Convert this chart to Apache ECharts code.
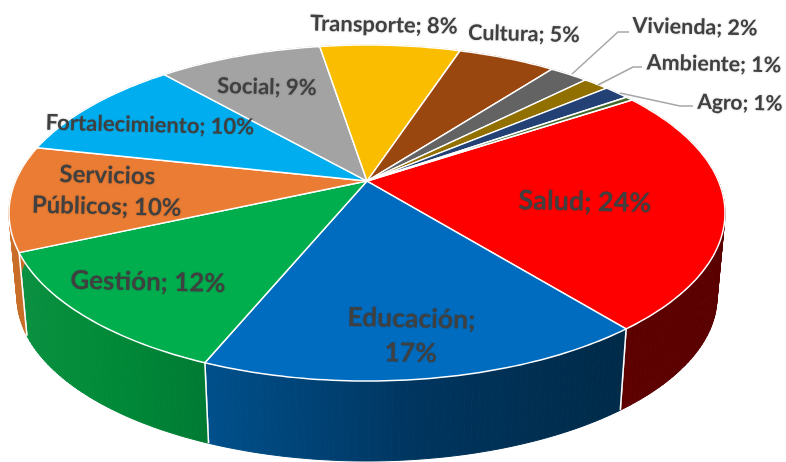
<!DOCTYPE html>
<html>
<head>
<meta charset="utf-8">
<title>Pie 3D</title>
<script src="https://cdn.jsdelivr.net/npm/echarts@6/dist/echarts.min.js"></script>
<style>
  html, body { margin: 0; padding: 0; background: #fff; }
  #chart { width: 786px; height: 462px; }
</style>
</head>
<body>
<div id="chart"></div>
<script>
// The last slice is the thin unlabelled one next to Salud
const categories = ['Salud', 'Educación', 'Gestión', 'Servicios Públicos', 'Fortalecimiento', 'Social', 'Transporte', 'Cultura', 'Vivienda', 'Ambiente', 'Agro', ''];
const values = [23.5, 17.0, 12.1, 10.1, 10.1, 8.9, 7.6, 5.3, 2.1, 1.4, 1.4, 0.4];
const colors = ['#ff0000', '#006cbf', '#00ae4e', '#ea7c33', '#00aeef', '#a3a3a3', '#fbbd00', '#99460f', '#636363', '#927000', '#234175', '#43682b'];

// Wall colours, left to right across each slice
const sideColors = [
  ['#5e0000', '#5a0000'],
  ['#00508c', '#00355f', '#002a48'],
  ['#0a9040', '#008a38', '#007a33'],
  ['#c96f2a', '#c46a20'],
  ['#0090c4', '#0090c4'],
  ['#888888', '#888888'],
  ['#cf9c00', '#cf9c00'],
  ['#7c390c', '#7c390c'],
  ['#505050', '#505050'],
  ['#775b00', '#775b00'],
  ['#1c3460', '#1c3460'],
  ['#365423', '#365423']
];

// [x, y, fontSize, text lines]
const labelLayout = [
  [585, 202, 27, ['Salud; 24%']],
  [411, 336, 26.5, ['Educación;', '17%']],
  [148, 282, 26, ['Gestión; 12%']],
  [107, 191, 24, ['Servicios', 'Públicos; 10%']],
  [150, 125, 22, ['Fortalecimiento; 10%']],
  [267, 87, 22, ['Social; 9%']],
  [384, 25, 22, ['Transporte; 8%']],
  [524, 34, 21.5, ['Cultura; 5%']],
  [695, 27, 21.5, ['Vivienda; 2%']],
  [714, 64, 21.5, ['Ambiente; 1%']],
  [740, 103, 21, ['Agro; 1%']],
  null
];

const leaderLines = [
  [[572, 74], [618, 32], [629, 32]],
  [[598, 85], [633, 67], [642, 67]],
  [[620, 93], [680, 106], [693, 106]]
];

const START_ANGLE = 56.4;
const TOP = { cx: 367, cy: 213, rx: 358, ry: 168 };
const BOTTOM = { cx: 367, cy: 297, rx: 350, ry: 164 };
const TILT = 0.19; // moves the hub up from the middle of the ellipse, as the perspective does

const total = values.reduce((a, b) => a + b, 0);
const angles = [];
values.reduce((acc, v, i) => {
  angles[i] = [acc, acc + v / total * 360];
  return acc + v / total * 360;
}, START_ANGLE);

// clockwise angle from 12 o'clock to a point on the tilted disc
function project(deg, e) {
  const a = deg * Math.PI / 180;
  const u = Math.sin(a);
  const v = -Math.cos(a);
  const d = 1 - TILT * v;
  return [
    e.cx + e.rx * u * Math.sqrt(1 - TILT * TILT) / d,
    e.cy + e.ry * (v - TILT) / d
  ];
}

function arc(a0, a1, e) {
  const n = Math.max(2, Math.ceil(a1 - a0));
  const pts = [];
  for (let i = 0; i <= n; i++) {
    pts.push(project(a0 + (a1 - a0) * i / n, e));
  }
  return pts;
}

// The wall is swept in small quads, a single polygon would miss the corner of the silhouette.
// They share one global gradient so the seams don't show.
function renderSide(params, api) {
  const i = api.value(0);
  const [a0, a1] = angles[i];
  const up = arc(a0, a1, TOP);
  const down = arc(a0, a1, BOTTOM);
  const xs = up.concat(down).map(p => p[0]);
  const stops = sideColors[i].map((color, k, all) => ({ offset: k / (all.length - 1), color: color }));
  const paint = new echarts.graphic.LinearGradient(Math.min(...xs), 0, Math.max(...xs), 0, stops, true);
  const children = [];
  for (let k = 0; k < up.length - 1; k++) {
    children.push({
      type: 'polygon',
      shape: { points: [up[k], up[k + 1], down[k + 1], down[k]] },
      style: { fill: paint, stroke: paint, lineWidth: 1 }
    });
  }
  [0, up.length - 1].forEach(k => {
    children.push({
      type: 'line',
      shape: { x1: up[k][0], y1: up[k][1], x2: down[k][0], y2: down[k][1] },
      style: { stroke: '#fff', lineWidth: 1.5 }
    });
  });
  return { type: 'group', children: children };
}

function renderTop(params, api) {
  const i = api.value(0);
  const [a0, a1] = angles[i];
  const hub = [TOP.cx, TOP.cy + TOP.ry * -TILT];
  return {
    type: 'polygon',
    shape: { points: [hub].concat(arc(a0, a1, TOP)) },
    style: { fill: colors[i], stroke: '#fff', lineWidth: 1.5, lineJoin: 'round' }
  };
}

function renderLeader(params, api) {
  return {
    type: 'polyline',
    shape: { points: leaderLines[api.value(0)] },
    style: { fill: 'none', stroke: '#a6a6a6', lineWidth: 1.5 }
  };
}

function renderLabel(params, api) {
  const layout = labelLayout[api.value(0)];
  if (!layout) return;
  return {
    type: 'text',
    x: layout[0],
    y: layout[1],
    rotation: -0.022,
    style: {
      text: layout[3].join('\n'),
      x: 0,
      y: 0,
      align: 'center',
      verticalAlign: 'middle',
      fill: '#404040',
      font: 'bold ' + layout[2] + 'px Lato',
      lineHeight: layout[2] * 1.3,
      textShadowColor: 'rgba(0,0,0,0.25)',
      textShadowBlur: 2
    }
  };
}

const chart = echarts.init(document.getElementById('chart'));
const seriesData = values.map((v, i) => [i, v]);

chart.setOption({
  animation: false,
  backgroundColor: '#fff',
  series: [
    { type: 'custom', coordinateSystem: 'none', z: 1, silent: true, renderItem: renderSide, data: seriesData },
    { type: 'custom', coordinateSystem: 'none', z: 2, silent: true, renderItem: renderTop, data: seriesData },
    { type: 'custom', coordinateSystem: 'none', z: 3, silent: true, renderItem: renderLeader, data: leaderLines.map((l, i) => [i]) },
    { type: 'custom', coordinateSystem: 'none', z: 4, silent: true, renderItem: renderLabel, data: seriesData }
  ]
});
</script>
</body>
</html>
